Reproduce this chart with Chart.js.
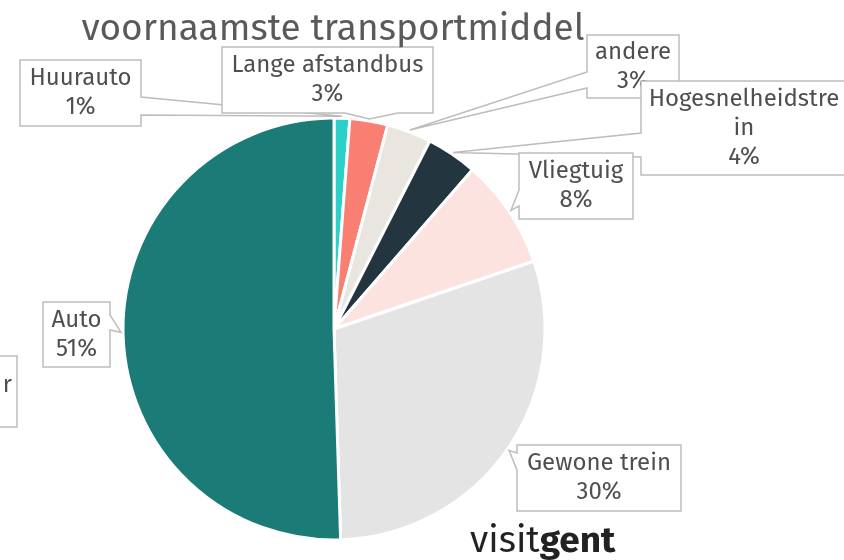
<!DOCTYPE html>
<html>
<head>
<meta charset="utf-8">
<script src="https://cdn.jsdelivr.net/npm/chart.js@4.4.1/dist/chart.umd.min.js"></script>
<style>
  html, body { margin: 0; padding: 0; background: #fff; }
  #wrap { width: 844px; height: 560px; }
</style>
</head>
<body>
<div id="wrap"><canvas id="pie" width="844" height="560"></canvas></div>
<script>
// gegevens (aandeel in %, labels tonen afgerond)
const categories = ['Huurauto', 'Lange afstandbus', 'andere', 'Hogesnelheidstrein', 'Vliegtuig', 'Gewone trein', 'Auto'];
const shares = [1.2, 2.9, 3.4, 3.9, 8.4, 29.7, 50.5];
const sliceColors = ['#2bd1c8', '#f97f72', '#e9e5df', '#233640', '#fde3e0', '#e4e4e4', '#1a7b77'];

const titleText = 'voornaamste transportmiddel';

// positie van de labelkaders (x, y, breedte, hoogte) + waar de staart vertrekt
const boxes = [
    { x: 20,  y: 60,  w: 121, h: 66, tail: 'right',  b: [97, 115] },
    { x: 222, y: 47,  w: 211, h: 66, tail: 'bottom', b: [398, 345] },
    { x: 587, y: 35,  w: 92,  h: 63, tail: 'left',   b: [88, 72] },
    { x: 641, y: 81,  w: 206, h: 94, tail: 'left',   b: [157, 133] },
    { x: 519, y: 153, w: 114, h: 66, tail: 'left',   b: [206, 190] },
    { x: 517, y: 445, w: 164, h: 66, tail: 'left',   b: [470, 453] },
    { x: 43,  y: 302, w: 67,  h: 65, tail: 'right',  b: [315, 330] }
];

const FONT = '"Fira Sans", "Open Sans", "Noto Sans", sans-serif';
const BORDER = '#bdbdbd';
const TEXT = '#4f4f4f';

function wrapLabel(txt, max) {
    // knip te lange woorden zoals het origineel doet
    const out = [];
    let line = '';
    txt.split(' ').forEach(w => {
        const cand = line ? line + ' ' + w : w;
        if (cand.length <= max) { line = cand; return; }
        if (line) out.push(line);
        while (w.length > max) { out.push(w.slice(0, max)); w = w.slice(max); }
        line = w;
    });
    if (line) out.push(line);
    return out;
}

function calloutPath(ctx, b, tip) {
    const x0 = b.x, y0 = b.y, x1 = b.x + b.w, y1 = b.y + b.h;
    ctx.beginPath();
    ctx.moveTo(x0, y0);
    ctx.lineTo(x1, y0);
    if (b.tail === 'right') {
        ctx.lineTo(x1, b.b[0]); ctx.lineTo(tip.x, tip.y); ctx.lineTo(x1, b.b[1]);
    }
    ctx.lineTo(x1, y1);
    if (b.tail === 'bottom') {
        ctx.lineTo(b.b[0], y1); ctx.lineTo(tip.x, tip.y); ctx.lineTo(b.b[1], y1);
    }
    ctx.lineTo(x0, y1);
    if (b.tail === 'left') {
        ctx.lineTo(x0, b.b[0]); ctx.lineTo(tip.x, tip.y); ctx.lineTo(x0, b.b[1]);
    }
    ctx.closePath();
}

function drawLines(ctx, lines, cx, cy, lh) {
    const top = cy - (lines.length - 1) * lh / 2;
    lines.forEach((l, k) => ctx.fillText(l, cx, top + k * lh));
}

const calloutPlugin = {
    id: 'callouts',
    afterDraw(chart) {
        const ctx = chart.ctx;
        const meta = chart.getDatasetMeta(0);
        ctx.save();
        ctx.lineWidth = 1.5;
        ctx.font = '24px ' + FONT;
        ctx.textAlign = 'center';
        ctx.textBaseline = 'middle';

        // kader links, grotendeels buiten beeld
        ctx.fillStyle = '#fff';
        ctx.strokeStyle = BORDER;
        ctx.beginPath();
        ctx.rect(-90, 356, 107, 71);
        ctx.fill(); ctx.stroke();
        ctx.save();
        ctx.beginPath();
        ctx.rect(4, 357, 12, 69);
        ctx.clip();
        ctx.fillStyle = TEXT;
        ctx.textAlign = 'right';
        ctx.fillText('Fietser', 12, 385);
        ctx.restore();

        meta.data.forEach((arc, i) => {
            const p = arc.getProps(['x', 'y', 'startAngle', 'endAngle', 'outerRadius'], true);
            const mid = (p.startAngle + p.endAngle) / 2;
            const tip = {
                x: p.x + Math.cos(mid) * (p.outerRadius + 2),
                y: p.y + Math.sin(mid) * (p.outerRadius + 2)
            };
            const b = boxes[i];
            calloutPath(ctx, b, tip);
            ctx.fillStyle = '#fff';
            ctx.fill();
            ctx.strokeStyle = BORDER;
            ctx.stroke();

            const lines = wrapLabel(categories[i], 16).concat([Math.round(shares[i]) + '%']);
            ctx.fillStyle = TEXT;
            drawLines(ctx, lines, b.x + b.w / 2, b.y + b.h / 2, 29);
        });

        // titel
        ctx.fillStyle = '#5a5a5a';
        ctx.font = '37px ' + FONT;
        ctx.textBaseline = 'alphabetic';
        ctx.fillText(titleText, 333, 40);

        // logo
        ctx.fillStyle = '#222';
        ctx.textAlign = 'left';
        ctx.font = '37px ' + FONT;
        ctx.fillText('visit', 470, 552);
        const w = ctx.measureText('visit').width;
        ctx.font = 'bold 37px ' + FONT;
        ctx.fillText('gent', 470 + w, 552);
        ctx.restore();
    }
};

const pieChart = new Chart(document.getElementById('pie'), {
    type: 'pie',
    data: {
        labels: categories,
        datasets: [{
            data: shares,
            backgroundColor: sliceColors,
            borderColor: '#ffffff',
            borderWidth: 3
        }]
    },
    options: {
        responsive: false,
        animation: false,
        radius: 211,
        layout: { padding: { left: 120, right: 296, top: 110, bottom: 12 } },
        plugins: {
            legend: { display: false },
            tooltip: { enabled: false },
            title: { display: false }
        }
    },
    plugins: [calloutPlugin]
});
</script>
</body>
</html>
